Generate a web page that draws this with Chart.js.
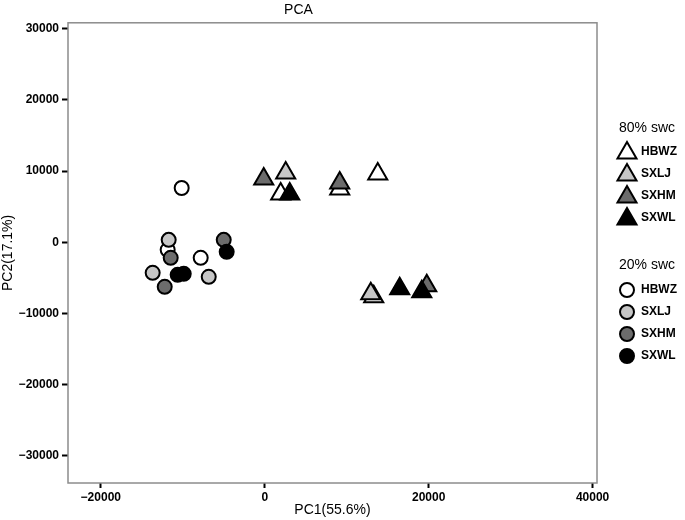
<html lang="en">
<head>
<meta charset="utf-8">
<script src="https://cdn.jsdelivr.net/npm/chart.js@4.4.0/dist/chart.umd.min.js"></script>
<title>PCA</title>
<style>
    body { margin:0; background:#fff; }
    #wrap { width:685px; height:520px; }
</style>
</head>
<body>
<div id="wrap"><canvas id="pca"></canvas></div>
<script>
// tick values
const xTicks = [-20000, 0, 20000, 40000];
const yTicks = [-30000, -20000, -10000, 0, 10000, 20000, 30000];

// 80% swc (triangles)
const hbwz80X = [1950, 9150, 13790, 13300];
const hbwz80Y = [6800, 7500, 9610, -7640];
const sxlj80X = [2560, 12940];
const sxlj80Y = [9750, -7220];
const sxhm80X = [-120, 9150, 19770];
const sxhm80Y = [8900, 8340, -6100];
const sxwl80X = [3050, 16470, 19160];
const sxwl80Y = [6800, -6520, -6940];

// 20% swc (circles)
const hbwz20X = [-10130, -11840, -7810];
const hbwz20Y = [7640, -1050, -2170];
const sxlj20X = [-11715, -13670, -6830];
const sxlj20Y = [350, -4280, -4840];
const sxhm20X = [-11470, -5000, -12200];
const sxhm20Y = [-2170, 350, -6240];
const sxwl20X = [-4640, -10620, -9880];
const sxwl20Y = [-1330, -4560, -4420];

const groups = ['HBWZ', 'SXLJ', 'SXHM', 'SXWL'];
const fills = ['#ffffff', '#c6c6c6', '#6c6c6c', '#000000'];
const FONT = '"Liberation Sans", Arial, sans-serif';

function pts(xs, ys) { return xs.map((x, i) => ({x: x, y: ys[i]})); }

const tri = [[hbwz80X, hbwz80Y], [sxlj80X, sxlj80Y], [sxhm80X, sxhm80Y], [sxwl80X, sxwl80Y]];
const circ = [[hbwz20X, hbwz20Y], [sxlj20X, sxlj20Y], [sxhm20X, sxhm20Y], [sxwl20X, sxwl20Y]];

var datasets = [];
circ.forEach(function (d, i) {
    datasets.push({
        label: groups[i] + ' 20%', data: pts(d[0], d[1]),
        pointStyle: 'circle', pointRadius: 7, borderWidth: 2,
        borderColor: '#000', backgroundColor: fills[i], order: 8 - i
    });
});
tri.forEach(function (d, i) {
    datasets.push({
        label: groups[i] + ' 80%', data: pts(d[0], d[1]),
        pointStyle: 'triangle', pointRadius: 11, borderWidth: 2,
        borderColor: '#000', backgroundColor: fills[i], order: 4 - i
    });
});

function fmt(v) { return v < 0 ? '\u2212' + Math.abs(v) : String(v); }

// plot frame + legend on the right
const framePlugin = {
    id: 'frame',
    afterDraw: function (chart) {
        var c = chart.ctx, a = chart.chartArea;
        c.save();
        c.strokeStyle = '#8c8c8c';
        c.lineWidth = 1.5;
        c.strokeRect(a.left, a.top, a.right - a.left, a.bottom - a.top);
        c.font = '14px ' + FONT;
        c.fillStyle = '#000';
        c.textBaseline = 'middle';
        c.fillText('80% swc', 619, 128);
        c.fillText('20% swc', 619, 265);
        c.font = 'bold 12px ' + FONT;
        var ty = [151, 173, 195, 217], cy = [290, 312, 334, 356];
        for (var i = 0; i < 4; i++) {
            c.fillStyle = fills[i]; c.strokeStyle = '#000'; c.lineWidth = 2;
            Chart.helpers.drawPoint(c, {pointStyle: 'triangle', radius: 11, rotation: 0, borderWidth: 2}, 627, ty[i] + 2);
            c.fillStyle = fills[i];
            Chart.helpers.drawPoint(c, {pointStyle: 'circle', radius: 7, rotation: 0, borderWidth: 2}, 627, cy[i]);
            c.fillStyle = '#000';
            c.fillText(groups[i], 641, ty[i] + 1);
            c.fillText(groups[i], 641, cy[i]);
        }
        c.restore();
    }
};

new Chart('pca', {
    type: 'scatter',
    data: {datasets: datasets},
    options: {
        responsive: true,
        maintainAspectRatio: false,
        animation: false,
        layout: {padding: {left: 0, right: 88, top: 0, bottom: 0}},
        plugins: {
            legend: {display: false},
            tooltip: {enabled: false},
            title: {
                display: true, text: 'PCA', color: '#000',
                font: {family: FONT, size: 14, weight: 'normal'},
                padding: {top: 2, bottom: 4}
            }
        },
        scales: {
            x: {
                type: 'linear', min: -24000, max: 40540,
                afterBuildTicks: function (s) { s.ticks = xTicks.map(v => ({value: v})); },
                afterFit: function (s) { s.height = 37; },
                grid: {drawOnChartArea: false, drawTicks: true, tickLength: 5, tickColor: '#000', tickWidth: 2},
                border: {display: false},
                ticks: {
                    callback: fmt, color: '#000', padding: 2, maxRotation: 0,
                    font: {family: FONT, size: 12, weight: 'bold'}
                },
                title: {
                    display: true, text: 'PC1(55.6%)', color: '#000',
                    font: {family: FONT, size: 14},
                    padding: {top: 0, bottom: 1}
                }
            },
            y: {
                type: 'linear', min: -33800, max: 30840,
                afterBuildTicks: function (s) { s.ticks = yTicks.map(v => ({value: v})); },
                afterFit: function (s) { s.width = 68; },
                grid: {drawOnChartArea: false, drawTicks: true, tickLength: 6, tickColor: '#000', tickWidth: 2},
                border: {display: false},
                ticks: {
                    callback: fmt, color: '#000', padding: 3,
                    font: {family: FONT, size: 12, weight: 'bold'}
                },
                title: {
                    display: true, text: 'PC2(17.1%)', color: '#000',
                    font: {family: FONT, size: 14},
                    padding: {top: 0, bottom: 0}
                }
            }
        }
    },
    plugins: [framePlugin]
});
</script>
</body>
</html>
